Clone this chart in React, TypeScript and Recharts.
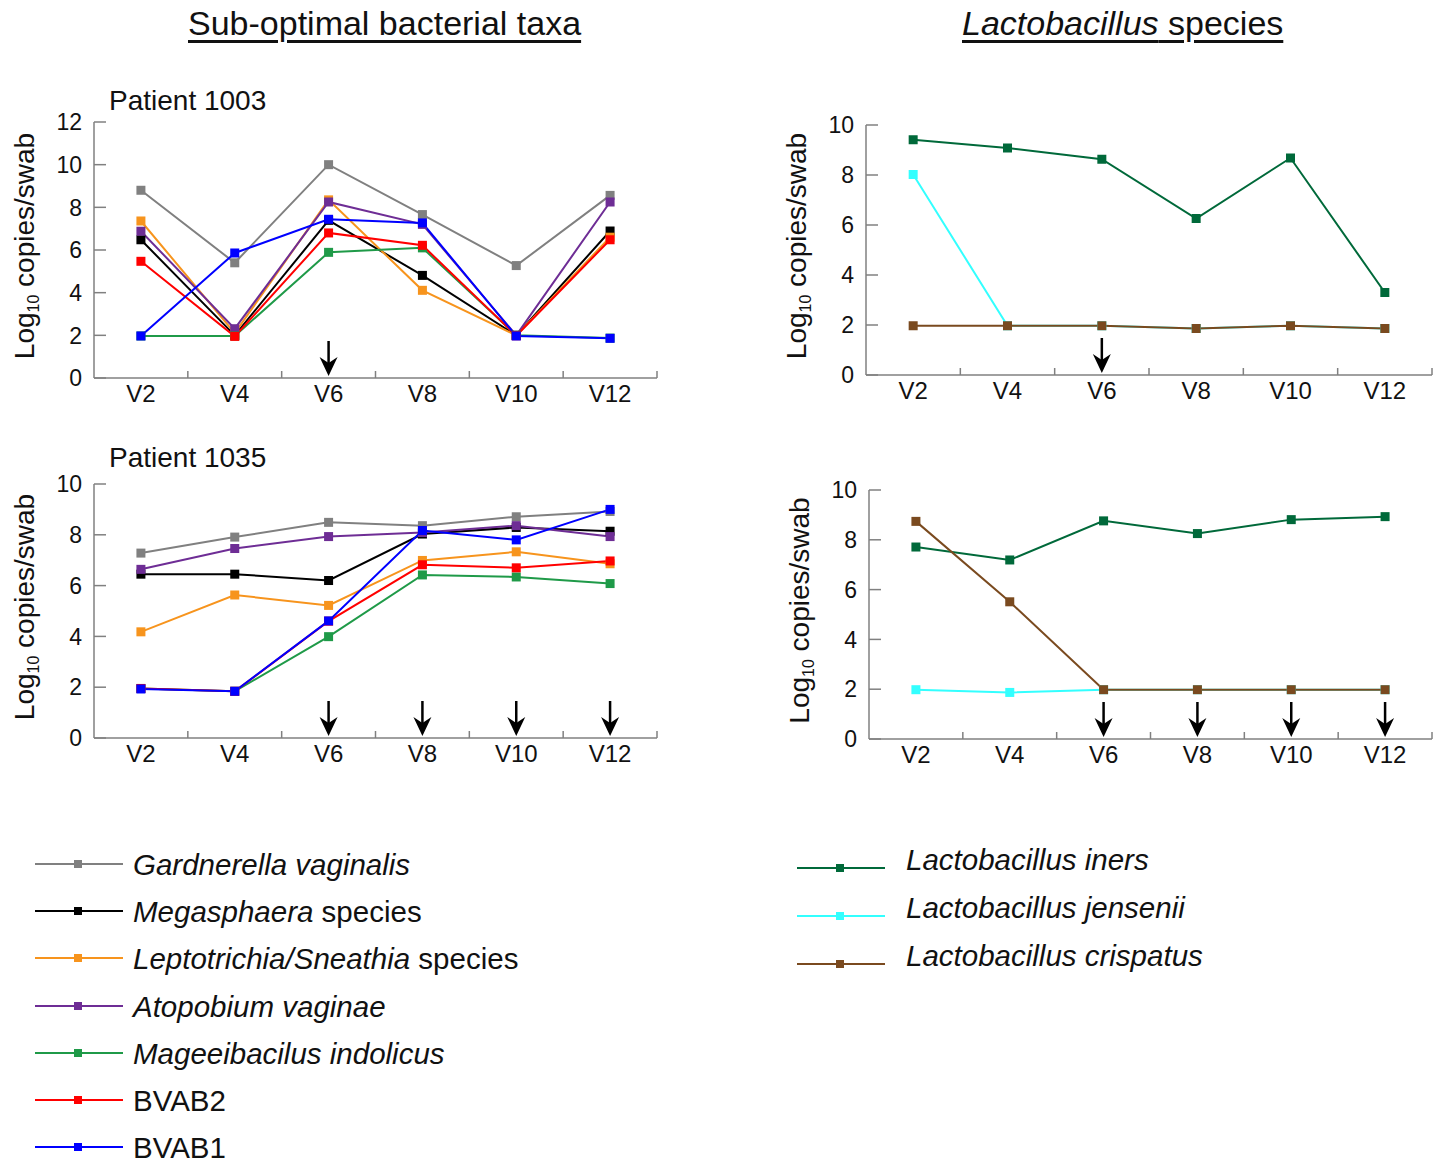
import React from "react";
import { LineChart, Line, XAxis, YAxis, ReferenceDot, Label } from "recharts";

const FONT = '"Liberation Sans", Arial, sans-serif';
const AXIS = "#808080";

const visits = ["V2", "V4", "V6", "V8", "V10", "V12"];

// Patient 1003 - sub-optimal taxa
const gardnerella1003 = [8.8, 5.4, 10.0, 7.66, 5.27, 8.56];
const megasphaera1003 = [6.48, 2.0, 7.39, 4.81, 2.0, 6.89];
const leptotrichia1003 = [7.36, 2.1, 8.35, 4.11, 2.0, 6.6];
const atopobium1003 = [6.88, 2.31, 8.25, 7.2, 2.0, 8.25];
const mageeibacillus1003 = [1.97, 1.97, 5.89, 6.1, 2.0, 1.87];
const bvab2_1003 = [5.47, 1.95, 6.8, 6.22, 1.98, 6.48];
const bvab1_1003 = [1.97, 5.86, 7.44, 7.27, 1.97, 1.86];

// Patient 1035 - sub-optimal taxa
const gardnerella1035 = [7.28, 7.91, 8.49, 8.36, 8.71, 8.92];
const megasphaera1035 = [6.45, 6.45, 6.2, 8.03, 8.29, 8.14];
const leptotrichia1035 = [4.18, 5.63, 5.22, 6.99, 7.33, 6.86];
const atopobium1035 = [6.64, 7.46, 7.93, 8.09, 8.36, 7.93];
const mageeibacillus1035 = [1.95, 1.84, 3.99, 6.42, 6.34, 6.08];
const bvab2_1035 = [1.95, 1.84, 4.6, 6.82, 6.7, 6.97];
const bvab1_1035 = [1.93, 1.84, 4.61, 8.17, 7.8, 9.0];

// Lactobacillus species
const iners1003 = [9.41, 9.08, 8.63, 6.26, 8.68, 3.3];
const jensenii1003 = [8.02, 1.97, 1.97, 1.86, 1.97, 1.86];
const crispatus1003 = [1.97, 1.97, 1.97, 1.86, 1.97, 1.86];

const iners1035 = [7.71, 7.19, 8.76, 8.25, 8.81, 8.93];
const jensenii1035 = [1.98, 1.87, 1.98, 1.98, 1.98, 1.98];
const crispatus1035 = [8.74, 5.51, 1.98, 1.98, 1.98, 1.98];

// treatment arrows
const arrowVisits1003 = ["V6"];
const arrowVisits1035 = ["V6", "V8", "V10", "V12"];

const taxa = [
  { key: "gv", italic: "Gardnerella vaginalis", plain: "", color: "#808080" },
  { key: "mega", italic: "Megasphaera", plain: " species", color: "#000000" },
  { key: "lepto", italic: "Leptotrichia/Sneathia", plain: " species", color: "#f7941d" },
  { key: "atop", italic: "Atopobium vaginae", plain: "", color: "#6e2d95" },
  { key: "mag", italic: "Mageeibacilus indolicus", plain: "", color: "#1f9a48" },
  { key: "bvab2", italic: "", plain: "BVAB2", color: "#ff0000" },
  { key: "bvab1", italic: "", plain: "BVAB1", color: "#0000ff" },
];

const lactos = [
  { key: "iners", italic: "Lactobacillus iners", plain: "", color: "#00693a" },
  { key: "jens", italic: "Lactobacillus jensenii", plain: "", color: "#33ffff" },
  { key: "crisp", italic: "Lactobacillus crispatus", plain: "", color: "#7a4a1f" },
];

function buildRows(cols: Record<string, number[]>) {
  return visits.map((v, i) => {
    const row: Record<string, number | string> = { visit: v, pos: i + 0.5 };
    Object.keys(cols).forEach((k) => (row[k] = cols[k][i]));
    return row;
  });
}

const rows1003 = buildRows({
  gv: gardnerella1003, mega: megasphaera1003, lepto: leptotrichia1003,
  atop: atopobium1003, mag: mageeibacillus1003, bvab2: bvab2_1003, bvab1: bvab1_1003,
});
const rows1035 = buildRows({
  gv: gardnerella1035, mega: megasphaera1035, lepto: leptotrichia1035,
  atop: atopobium1035, mag: mageeibacillus1035, bvab2: bvab2_1035, bvab1: bvab1_1035,
});
const lacto1003 = buildRows({ iners: iners1003, jens: jensenii1003, crisp: crispatus1003 });
const lacto1035 = buildRows({ iners: iners1035, jens: jensenii1035, crisp: crispatus1035 });

const xTicks = visits.flatMap((_, i) => [i, i + 0.5]).concat(visits.length);

const XTick = (props: any) => {
  const { x, y, payload } = props;
  const v = payload.value as number;
  if (Number.isInteger(v)) {
    if (v === 0) return <g />;
    return <line x1={x} x2={x} y1={y} y2={y - 7} stroke={AXIS} strokeWidth={1.5} />;
  }
  return (
    <text x={x} y={y + 24} textAnchor="middle" fontSize={24} fill="#111" fontFamily={FONT}>
      {visits[Math.floor(v)]}
    </text>
  );
};

const YTick = (props: any) => {
  const { x, y, payload } = props;
  return (
    <g>
      <line x1={x} x2={x + 12} y1={y} y2={y} stroke={AXIS} strokeWidth={1.5} />
      <text x={x - 12} y={y} dy="0.36em" textAnchor="end" fontSize={23} fill="#111" fontFamily={FONT}>
        {payload.value}
      </text>
    </g>
  );
};

const YLabel = (props: any) => {
  const vb = props.viewBox;
  const bx = vb.x + vb.width - 60;
  const cy = vb.y + vb.height / 2 - 4;
  return (
    <text x={bx} y={cy} transform={`rotate(-90, ${bx}, ${cy})`} textAnchor="middle" fontSize={28} fill="#111" fontFamily={FONT}>
      Log<tspan fontSize={16} dy={5}>10</tspan>
      <tspan dy={-5}> copies/swab</tspan>
    </text>
  );
};

const Arrow = (props: any) => {
  const { cx, cy } = props;
  const tip = cy - 2;
  return (
    <g>
      <line x1={cx} x2={cx} y1={tip - 35} y2={tip - 10} stroke="#000" strokeWidth={2.5} />
      <path d={`M${cx},${tip} L${cx - 9},${tip - 19} L${cx},${tip - 13} L${cx + 9},${tip - 19} Z`} fill="#000" />
    </g>
  );
};

const squareDot = (color: string, id: string) => (props: any) => {
  const { cx, cy, index } = props;
  if (cx == null || cy == null) return <g key={`${id}-${index}`} />;
  return <rect key={`${id}-${index}`} x={cx - 4.5} y={cy - 4.5} width={9} height={9} fill={color} />;
};

type PanelProps = {
  rows: any[];
  series: { key: string; color: string }[];
  yMax: number;
  plot: { left: number; top: number; width: number; height: number };
  arrows: string[];
};

function Panel({ rows, series, yMax, plot, arrows }: PanelProps) {
  const yTicks = Array.from({ length: yMax / 2 + 1 }, (_, i) => i * 2);
  return (
    <div style={{ position: "absolute", left: plot.left - 94, top: plot.top - 12 }}>
      <LineChart
        width={94 + plot.width + 12}
        height={12 + plot.height + 44}
        data={rows}
        margin={{ top: 12, right: 12, left: 0, bottom: 0 }}
      >
        <XAxis
          type="number"
          dataKey="pos"
          domain={[0, visits.length]}
          ticks={xTicks}
          interval={0}
          tickSize={0}
          tickMargin={0}
          tickLine={false}
          tick={XTick}
          height={44}
          axisLine={{ stroke: AXIS, strokeWidth: 1.5 }}
        />
        <YAxis
          type="number"
          domain={[0, yMax]}
          ticks={yTicks}
          interval={0}
          tickSize={0}
          tickMargin={0}
          tickLine={false}
          tick={YTick}
          width={94}
          axisLine={{ stroke: AXIS, strokeWidth: 1.5 }}
        >
          <Label content={YLabel} />
        </YAxis>
        {series.map((s) => (
          <Line
            key={s.key}
            type="linear"
            dataKey={s.key}
            stroke={s.color}
            strokeWidth={2}
            dot={squareDot(s.color, s.key)}
            activeDot={false}
            isAnimationActive={false}
          />
        ))}
        {arrows.map((v) => (
          <ReferenceDot
            key={v}
            x={visits.indexOf(v) + 0.5}
            y={0}
            ifOverflow="visible"
            shape={Arrow}
          />
        ))}
      </LineChart>
    </div>
  );
}

function LegendBlock({ items, left, top, step, textDy, gap }: any) {
  return (
    <>
      {items.map((it: any, i: number) => (
        <div
          key={it.key}
          style={{
            position: "absolute",
            left,
            top: top + i * step - 12,
            height: 24,
            display: "flex",
            alignItems: "center",
            fontFamily: FONT,
            fontSize: 29.5,
            color: "#111",
            whiteSpace: "nowrap",
          }}
        >
          <svg width={88} height={12} style={{ display: "block" }}>
            <line x1={0} x2={88} y1={6} y2={6} stroke={it.color} strokeWidth={2} />
            <rect x={39} y={2} width={8} height={8} fill={it.color} />
          </svg>
          <span style={{ marginLeft: gap, lineHeight: "24px", position: "relative", top: textDy }}>
            {it.italic && <i>{it.italic}</i>}
            {it.plain}
          </span>
        </div>
      ))}
    </>
  );
}

const titleStyle: React.CSSProperties = {
  position: "absolute",
  fontFamily: FONT,
  fontSize: 34,
  lineHeight: 1,
  textDecoration: "underline",
  textUnderlineOffset: 5,
  color: "#111",
  whiteSpace: "nowrap",
};

const patientStyle: React.CSSProperties = {
  position: "absolute",
  fontFamily: FONT,
  fontSize: 28,
  lineHeight: 1,
  color: "#111",
  whiteSpace: "nowrap",
};

export default function App() {
  return (
    <div style={{ position: "absolute", left: 0, top: 0, width: 1439, height: 1167, background: "#fff", overflow: "hidden" }}>
      <div style={{ ...titleStyle, left: 188, top: 6 }}>Sub-optimal bacterial taxa</div>
      <div style={{ ...titleStyle, left: 962, top: 6 }}>
        <i>Lactobacillus</i> species
      </div>
      <div style={{ ...patientStyle, left: 109, top: 87 }}>Patient 1003</div>
      <div style={{ ...patientStyle, left: 109, top: 444 }}>Patient 1035</div>

      <Panel rows={rows1003} series={taxa} yMax={12} plot={{ left: 94, top: 122, width: 563, height: 256 }} arrows={arrowVisits1003} />
      <Panel rows={rows1035} series={taxa} yMax={10} plot={{ left: 94, top: 484, width: 563, height: 254 }} arrows={arrowVisits1035} />
      <Panel rows={lacto1003} series={lactos} yMax={10} plot={{ left: 866, top: 125, width: 566, height: 250 }} arrows={arrowVisits1003} />
      <Panel rows={lacto1035} series={lactos} yMax={10} plot={{ left: 869, top: 490, width: 563, height: 249 }} arrows={arrowVisits1035} />

      <LegendBlock items={taxa} left={35} top={864} step={47.2} textDy={1} gap={10} />
      <LegendBlock items={lactos} left={797} top={868} step={48} textDy={-8} gap={21} />
    </div>
  );
}
